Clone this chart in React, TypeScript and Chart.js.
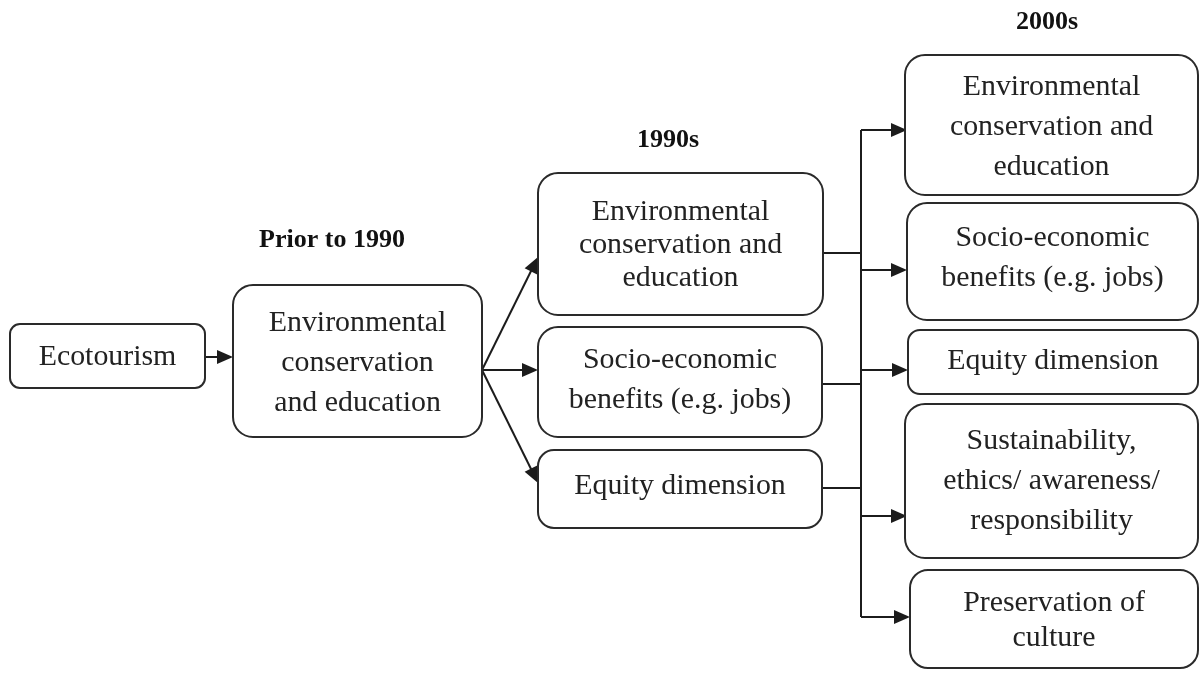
import React, { useEffect, useRef } from "react";
import { Chart, registerables } from "chart.js";

Chart.register(...registerables);

// Node content
const nodeLabels: string[][] = [
  ["Ecotourism"],
  ["Environmental", "conservation", "and education"],
  ["Environmental", "conservation and", "education"],
  ["Socio-economic", "benefits (e.g. jobs)"],
  ["Equity dimension"],
  ["Environmental", "conservation and", "education"],
  ["Socio-economic", "benefits (e.g. jobs)"],
  ["Equity dimension"],
  ["Sustainability,", "ethics/ awareness/", "responsibility"],
  ["Preservation of", "culture"],
];
// Node extents in diagram units
const nodeLeft = [10, 233, 538, 538, 538, 905, 907, 908, 905, 910];
const nodeRight = [205, 482, 823, 822, 822, 1198, 1198, 1198, 1198, 1198];
const nodeTop = [324, 285, 173, 327, 450, 55, 203, 330, 404, 570];
const nodeBottom = [388, 437, 315, 437, 528, 195, 320, 394, 558, 668];
const nodeCorner = [10, 20, 20, 20, 16, 20, 20, 12, 20, 18];
// Text block centre and line pitch, in diagram units
const textCenterY = [357, 363, 245, 380, 486, 127, 258, 361, 481, 621];
const textLinePitch = [40, 40, 33, 40, 40, 40, 40, 40, 40, 35];

// Period headers
const headerLabels = ["Prior to 1990", "1990s", "2000s"];
const headerX = [332, 668, 1047];
const headerY = [240, 140, 22];

// Connectors: [x1, y1, x2, y2], arrow flag
const edgeX1 = [205, 482, 482, 482, 822, 822, 822, 861, 861, 861, 861, 861, 861];
const edgeY1 = [357, 370, 370, 370, 253, 384, 488, 130, 130, 270, 370, 516, 617];
const edgeX2 = [233, 538, 538, 538, 861, 861, 861, 861, 907, 907, 908, 907, 910];
const edgeY2 = [357, 257, 370, 483, 253, 384, 488, 617, 130, 270, 370, 516, 617];
const edgeArrow = [true, true, true, true, false, false, false, false, true, true, true, true, true];

const FONT = '"Liberation Serif", "Times New Roman", serif';

const diagramPlugin = {
  id: "diagram",
  afterDatasetsDraw(chart: any) {
    const ctx = chart.ctx as CanvasRenderingContext2D;
    const xs = chart.scales.x;
    const ys = chart.scales.y;
    const px = (v: number) => xs.getPixelForValue(v);
    const py = (v: number) => ys.getPixelForValue(v);
    ctx.save();
    const ink = "#1c1c1c";

    // edges
    for (let i = 0; i < edgeX1.length; i++) {
      const x1 = px(edgeX1[i]);
      const y1 = py(edgeY1[i]);
      const x2 = px(edgeX2[i]);
      const y2 = py(edgeY2[i]);
      const ang = Math.atan2(y2 - y1, x2 - x1);
      const headLen = 16;
      const headW = 7;
      const ex = edgeArrow[i] ? x2 - Math.cos(ang) * (headLen - 2) : x2;
      const ey = edgeArrow[i] ? y2 - Math.sin(ang) * (headLen - 2) : y2;
      ctx.strokeStyle = ink;
      ctx.lineWidth = 2;
      ctx.beginPath();
      ctx.moveTo(x1, y1);
      ctx.lineTo(ex, ey);
      ctx.stroke();
      if (edgeArrow[i]) {
        ctx.fillStyle = ink;
        ctx.beginPath();
        ctx.moveTo(x2, y2);
        ctx.lineTo(
          x2 - Math.cos(ang) * headLen - Math.sin(ang) * headW,
          y2 - Math.sin(ang) * headLen + Math.cos(ang) * headW
        );
        ctx.lineTo(
          x2 - Math.cos(ang) * headLen + Math.sin(ang) * headW,
          y2 - Math.sin(ang) * headLen - Math.cos(ang) * headW
        );
        ctx.closePath();
        ctx.fill();
      }
    }

    // nodes
    for (let i = 0; i < nodeLabels.length; i++) {
      const l = px(nodeLeft[i]);
      const r = px(nodeRight[i]);
      const t = py(nodeTop[i]);
      const b = py(nodeBottom[i]);
      ctx.fillStyle = "#ffffff";
      ctx.strokeStyle = "#2a2a2a";
      ctx.lineWidth = 2;
      ctx.beginPath();
      (ctx as any).roundRect(l, t, r - l, b - t, nodeCorner[i]);
      ctx.fill();
      ctx.stroke();
      const lines = nodeLabels[i];
      const lh = py(textLinePitch[i]) - py(0);
      const cx = (l + r) / 2;
      const cy = py(textCenterY[i]);
      ctx.fillStyle = "#222222";
      ctx.font = `29px ${FONT}`;
      ctx.textAlign = "center";
      ctx.textBaseline = "middle";
      lines.forEach((s, k) => {
        const yy = cy + (k - (lines.length - 1) / 2) * lh;
        ctx.save();
        ctx.translate(cx, yy);
        ctx.scale(1.03, 1);
        ctx.fillText(s, 0, 0);
        ctx.restore();
      });
    }

    // headers
    ctx.font = `bold 26px ${FONT}`;
    ctx.fillStyle = "#111111";
    ctx.textAlign = "center";
    ctx.textBaseline = "middle";
    for (let i = 0; i < headerLabels.length; i++) {
      ctx.fillText(headerLabels[i], px(headerX[i]), py(headerY[i]));
    }
    ctx.restore();
  },
};

export default function App() {
  const ref = useRef<HTMLCanvasElement | null>(null);
  useEffect(() => {
    document.body.style.margin = "0";
    const canvas = ref.current;
    if (!canvas) return;
    const centers = nodeLabels.map((_, i) => ({
      x: (nodeLeft[i] + nodeRight[i]) / 2,
      y: (nodeTop[i] + nodeBottom[i]) / 2,
    }));
    const chart = new Chart(canvas, {
      type: "scatter",
      data: {
        datasets: [
          {
            label: "nodes",
            data: centers,
            pointRadius: 0,
            pointHoverRadius: 0,
            showLine: false,
          },
        ],
      },
      options: {
        animation: false,
        responsive: false,
        maintainAspectRatio: false,
        layout: { padding: 0 },
        plugins: {
          legend: { display: false },
          tooltip: { enabled: false },
          title: { display: false },
        },
        events: [],
        scales: {
          x: { type: "linear", min: 0, max: 1200, display: false },
          y: { type: "linear", min: 0, max: 674, reverse: true, display: false },
        },
      },
      plugins: [diagramPlugin],
    });
    return () => chart.destroy();
  }, []);
  return (
    <div style={{ position: "absolute", left: 0, top: 0, width: 1200, height: 674, background: "#ffffff" }}>
      <canvas ref={ref} width={1200} height={674} style={{ display: "block" }} />
    </div>
  );
}
